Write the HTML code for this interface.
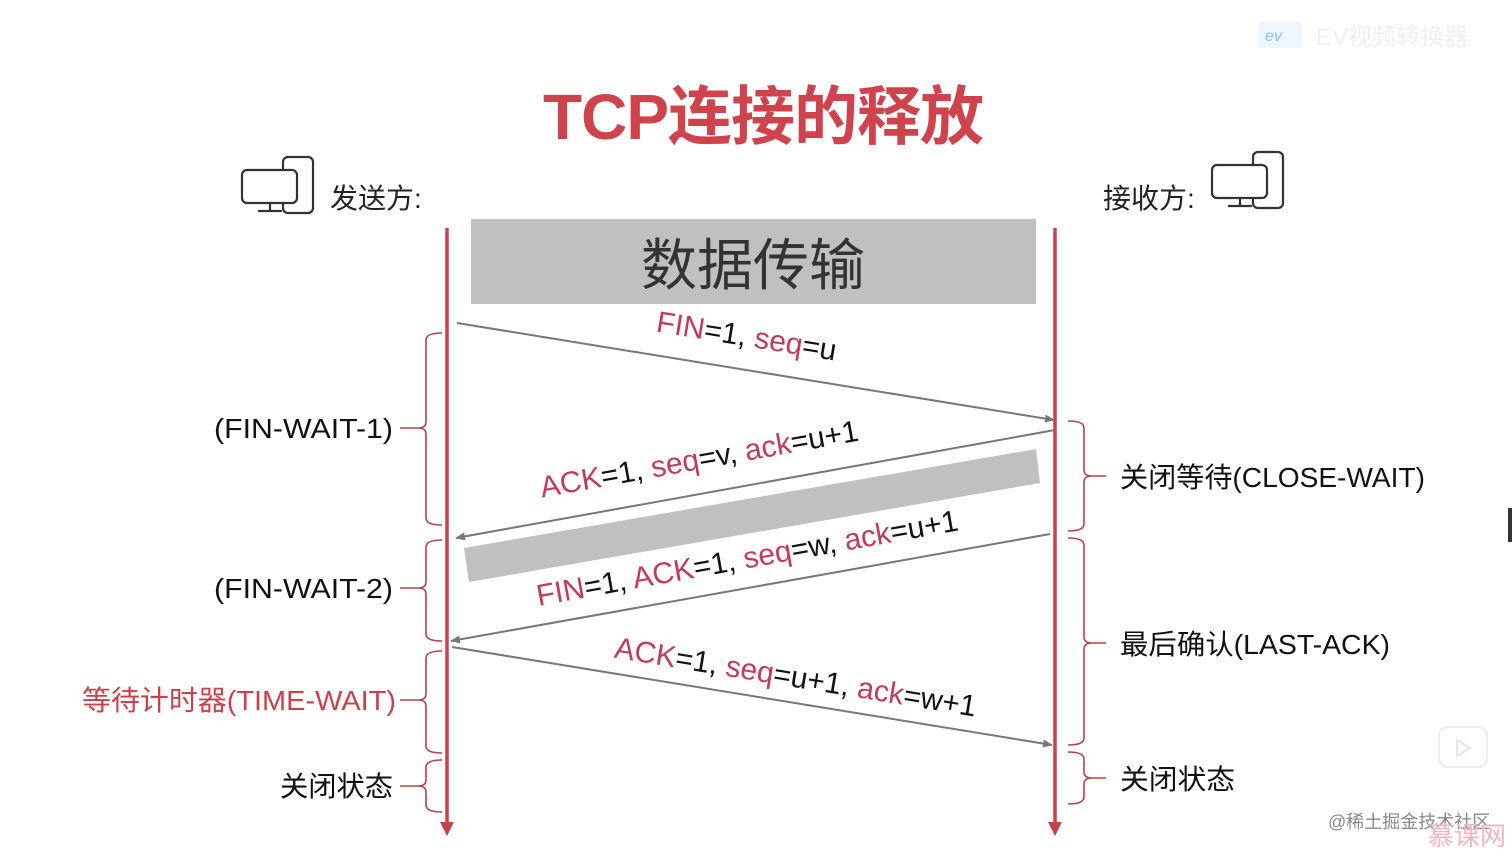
<!DOCTYPE html>
<html><head><meta charset="utf-8"><style>
html,body{margin:0;padding:0;background:#fff;width:1512px;height:855px;overflow:hidden}
svg{display:block}
text{font-family:"Liberation Sans","Noto Sans CJK SC",sans-serif}
.r{fill:#c23b5a}
</style></head><body>
<svg width="1512" height="855" viewBox="0 0 1512 855" xmlns="http://www.w3.org/2000/svg">
<defs>
<marker id="ga" markerWidth="10" markerHeight="8" refX="9" refY="4" orient="auto" markerUnits="userSpaceOnUse"><path d="M0,0 L10,4 L0,8 Z" fill="#777"/></marker>
</defs>
<rect x="1258" y="22" width="44" height="26" rx="4" fill="#eef5fb"/>
<text x="1265" y="41" font-size="16" fill="#8cc3e8" font-style="italic">ev</text>
<text x="1316" y="45" font-size="24" fill="#f0f0f0">EV视频转换器</text>
<text x="763" y="139" text-anchor="middle" font-size="64" font-weight="bold" fill="#cf444c" letter-spacing="-1">TCP连接的释放</text>
<g fill="#fff" stroke="#333" stroke-width="2.2">
<rect x="283" y="157" width="30" height="56" rx="5"/>
<rect x="242" y="170" width="55" height="33" rx="5"/>
<line x1="270" y1="203" x2="270" y2="211"/><line x1="258" y1="211" x2="282" y2="211"/>
<rect x="1253" y="152" width="30" height="56" rx="5"/>
<rect x="1212" y="165" width="55" height="33" rx="5"/>
<line x1="1240" y1="198" x2="1240" y2="206"/><line x1="1228" y1="206" x2="1252" y2="206"/>
</g>
<text x="330" y="208" font-size="28" fill="#222">发送方:</text>
<text x="1103" y="208" font-size="28" fill="#222">接收方:</text>
<rect x="471" y="219" width="565" height="85" fill="#c0c0c0"/>
<text x="753" y="285" text-anchor="middle" font-size="56" fill="#333">数据传输</text>
<polygon points="464,548 1036,449 1040,483 469,582" fill="#c0c0c0"/>
<g stroke="#c9414a" stroke-width="3.5">
<line x1="447" y1="228" x2="447" y2="824"/>
<line x1="1055" y1="228" x2="1055" y2="824"/>
</g>
<polygon points="440,822 454,822 447,836" fill="#c9414a"/>
<polygon points="1048,822 1062,822 1055,836" fill="#c9414a"/>
<g stroke="#777" stroke-width="2" fill="none" marker-end="url(#ga)">
<line x1="457" y1="323" x2="1054" y2="420"/>
<line x1="1055" y1="430" x2="456" y2="538"/>
<line x1="1050" y1="534" x2="451" y2="641"/>
<line x1="452" y1="647" x2="1052" y2="745"/>
</g>
<g font-size="30" fill="#111">
<text transform="translate(745,346) rotate(9.2)" text-anchor="middle"><tspan class="r">FIN</tspan>=1, <tspan class="r">seq</tspan>=u</text>
<text transform="translate(701,469) rotate(-10.2)" text-anchor="middle"><tspan class="r">ACK</tspan>=1, <tspan class="r">seq</tspan>=v, <tspan class="r">ack</tspan>=u+1</text>
<text transform="translate(749,568) rotate(-10.2)" text-anchor="middle"><tspan class="r">FIN</tspan>=1, <tspan class="r">ACK</tspan>=1, <tspan class="r">seq</tspan>=w, <tspan class="r">ack</tspan>=u+1</text>
<text transform="translate(794,687) rotate(9.3)" text-anchor="middle"><tspan class="r">ACK</tspan>=1, <tspan class="r">seq</tspan>=u+1, <tspan class="r">ack</tspan>=w+1</text>
</g>
<g stroke="#b8414a" stroke-width="1.6" fill="none">
<path d="M442,333 Q426,333 426,340 L426,422 Q426,428 418,428 L400,428 M418,428 Q426,428 426,434 L426,518 Q426,525 442,525"/>
<path d="M442,540 Q426,540 426,547 L426,582 Q426,588 418,588 L400,588 M418,588 Q426,588 426,594 L426,634 Q426,641 442,641"/>
<path d="M442,651 Q426,651 426,658 L426,694 Q426,700 418,700 L400,700 M418,700 Q426,700 426,706 L426,746 Q426,753 442,753"/>
<path d="M442,760 Q426,760 426,767 L426,780 Q426,786 418,786 L400,786 M418,786 Q426,786 426,792 L426,805 Q426,812 442,812"/>
<path d="M1068,421 Q1084,421 1084,428 L1084,470 Q1084,476 1092,476 L1106,476 M1092,476 Q1084,476 1084,482 L1084,524 Q1084,531 1068,531"/>
<path d="M1068,538 Q1084,538 1084,545 L1084,637 Q1084,643 1092,643 L1106,643 M1092,643 Q1084,643 1084,649 L1084,738 Q1084,745 1068,745"/>
<path d="M1068,752 Q1084,752 1084,759 L1084,772 Q1084,778 1092,778 L1106,778 M1092,778 Q1084,778 1084,784 L1084,797 Q1084,804 1068,804"/>
</g>
<g font-size="28" fill="#111">
<text x="214" y="438" textLength="179" lengthAdjust="spacingAndGlyphs">(FIN-WAIT-1)</text>
<text x="214" y="598" textLength="179" lengthAdjust="spacingAndGlyphs">(FIN-WAIT-2)</text>
<text x="82" y="710" fill="#c9414a" textLength="314" lengthAdjust="spacingAndGlyphs">等待计时器(TIME-WAIT)</text>
<text x="280" y="796" textLength="113" lengthAdjust="spacingAndGlyphs">关闭状态</text>
<text x="1120" y="487" textLength="305" lengthAdjust="spacingAndGlyphs">关闭等待(CLOSE-WAIT)</text>
<text x="1120" y="654" textLength="270" lengthAdjust="spacingAndGlyphs">最后确认(LAST-ACK)</text>
<text x="1120" y="789" textLength="115" lengthAdjust="spacingAndGlyphs">关闭状态</text>
</g>
<rect x="1439" y="727" width="48" height="40" rx="9" fill="#fff" stroke="#eee" stroke-width="2"/>
<polygon points="1457,740 1457,756 1470,748" fill="none" stroke="#e4e4e4" stroke-width="2"/>
<text x="1328" y="828" font-size="18" fill="#888">@稀土掘金技术社区</text>
<text x="1428" y="845" font-size="26" fill="#f0b5bd">慕课网</text>
<rect x="1508" y="508" width="4" height="34" fill="#333"/>
</svg>
</body></html>
